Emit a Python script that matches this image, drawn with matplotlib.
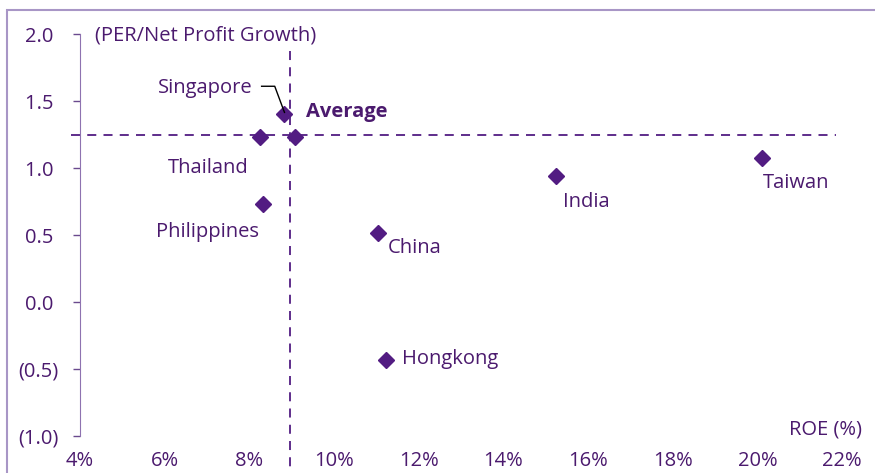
import numpy as np
import matplotlib.pyplot as plt
from matplotlib.patches import Rectangle

# Dados
countries = ['Singapore', 'Thailand', 'Philippines', 'China', 'Hongkong', 'India', 'Taiwan', 'Average']
roe = [8.83, 8.25, 8.32, 11.03, 11.24, 15.25, 20.11, 9.09]
peg = [1.40, 1.23, 0.73, 0.515, -0.43, 0.94, 1.075, 1.23]
avg_roe = 8.95
avg_peg = 1.246

xticks = np.arange(4, 23, 2)
yticks = [-1.0, -0.5, 0.0, 0.5, 1.0, 1.5, 2.0]
ylabels = ['(1.0)', '(0.5)', '0.0 ', '0.5 ', '1.0 ', '1.5 ', '2.0 ']

txt = '#4B1A6E'
mk = '#521C82'
plt.rcParams['font.family'] = ['Open Sans', 'DejaVu Sans']
fs = 14.5

fig = plt.figure(figsize=(8.75, 4.73), dpi=100)
fig.patches.append(Rectangle((7/875, -0.1), 1.2, 1 - 10.5/473 + 0.1, transform=fig.transFigure,
                             fill=False, edgecolor='#A896C6', linewidth=1.5))
ax = fig.add_axes([80/875, 1 - 436/473, (842 - 80)/875, (436 - 34)/473])

ax.plot(roe, peg, 'D', color=mk, markersize=8.5, linestyle='none', clip_on=False)

# linhas de média
ax.plot([3.78, 21.85], [avg_peg, avg_peg], '--', color=mk, lw=1.3, dashes=(5, 4), clip_on=False)
ax.plot([avg_roe, avg_roe], [1.87, -1.26], '--', color=mk, lw=1.3, dashes=(5, 4), clip_on=False)

ax.set_xlim(4, 22)
ax.set_ylim(-1.0, 2.0)
ax.set_xticks(xticks)
ax.set_xticklabels([f'{v}%' for v in xticks])
ax.set_yticks(yticks)
ax.set_yticklabels(ylabels)
ax.tick_params(axis='x', length=0, pad=11, labelsize=fs, colors=txt)
ax.tick_params(axis='y', length=5, width=1, pad=10.5, labelsize=fs, colors=txt, direction='out')
ax.tick_params(axis='y', color='#6A4A8E')
for s in ['top', 'right', 'bottom']:
    ax.spines[s].set_visible(False)
ax.spines['left'].set_color('#8E72B0')

# rótulos (deslocamento vertical pequeno)
d = 0.015
ax.text(8.08, 1.61 - d, 'Singapore', ha='right', va='center', fontsize=fs, color=txt)
ax.plot([8.29, 8.6, 8.83], [1.61, 1.61, 1.415], color='black', lw=1)
ax.text(9.35, 1.433 - d, 'Average', ha='left', va='center', fontsize=fs, color=txt, fontweight='bold')
ax.text(7.04, 1.015 - d, 'Thailand', ha='center', va='center', fontsize=fs, color=txt)
ax.text(7.0, 0.537 - d, 'Philippines', ha='center', va='center', fontsize=fs, color=txt)
ax.text(11.26, 0.418 - d, 'China', ha='left', va='center', fontsize=fs, color=txt)
ax.text(11.6, -0.41 - d, 'Hongkong', ha='left', va='center', fontsize=fs, color=txt)
ax.text(15.42, 0.76 - d, 'India', ha='left', va='center', fontsize=fs, color=txt)
ax.text(20.13, 0.903 - d, 'Taiwan', ha='left', va='center', fontsize=fs, color=txt)
ax.text(4.35, 2.007 - d, '(PER/Net Profit Growth)', ha='left', va='center', fontsize=fs, color=txt)
ax.text(22.47, -0.933 - d, 'ROE (%)', ha='right', va='center', fontsize=fs, color=txt)

fig.savefig('out.png', dpi=100)
